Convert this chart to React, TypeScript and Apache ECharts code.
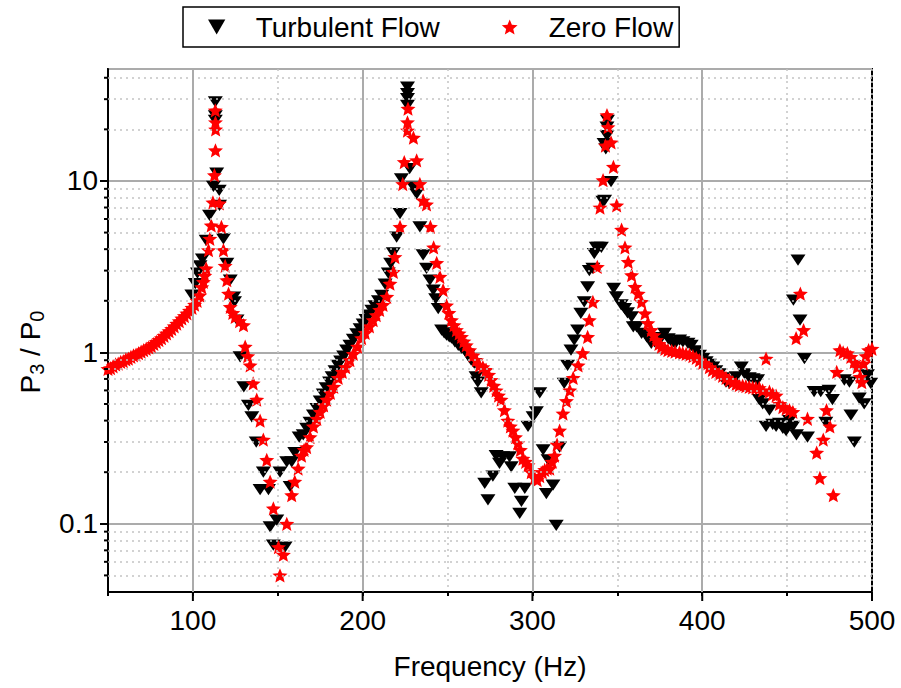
import React, { useEffect, useRef } from 'react';
import * as echarts from 'echarts';

const FONT = "'Liberation Sans', Arial, Helvetica, sans-serif";

const xMajorTicks = [100, 200, 300, 400, 500];
const xSolidGrid = [100, 200, 300, 400];
const yMinorTicks = [0.05, 0.06, 0.07, 0.08, 0.09, 0.2, 0.3, 0.4, 0.5, 0.6, 0.7, 0.8, 0.9, 2, 3, 4, 5, 6, 7, 8, 9, 20, 30, 40];

// [frequency (Hz), P3/P0]
const turbulentFlow: [number, number][] = [
  [99.4, 2.16], [101.4, 2.52], [102.7, 2.9], [104.2, 3.2], [105.6, 3.5], [107.8, 4.5], [109.8, 6.3], [112.1, 9.3],
  [113.2, 22.6], [113.2, 24], [113.2, 28.9], [114, 11.1], [115.5, 8.8], [115.7, 7.2], [118, 4.6], [120, 3.3],
  [122, 2.64], [124, 2.1], [124.5, 1.97], [126, 1.54], [127.8, 0.94], [130, 0.63], [132.7, 0.49], [134.7, 0.42],
  [137.3, 0.30], [139.6, 0.158], [141.5, 0.20], [144.5, 0.158], [145.5, 0.096], [147.4, 0.075], [149.4, 0.105],
  [151.3, 0.20], [154.3, 0.073], [155.3, 0.23], [157.3, 0.165], [158.2, 0.23], [160, 0.26], [162.6, 0.32],
  [165, 0.33], [167, 0.36], [169, 0.39], [171, 0.43], [173, 0.47], [175, 0.52], [176.8, 0.57], [178.5, 0.62],
  [180.5, 0.67], [182, 0.72], [183.7, 0.78], [185.5, 0.84], [187, 0.89], [188.8, 0.95], [190.5, 1.03], [192.5, 1.1],
  [194.5, 1.19], [196.5, 1.28], [198.5, 1.37], [200.3, 1.46], [202, 1.55], [203.8, 1.65], [205.4, 1.76], [207.3, 1.87],
  [209.3, 2.0], [211.2, 2.15], [213.2, 2.5], [215.1, 2.9], [216.5, 3.3], [218, 3.8], [220, 4.7], [222, 6.45],
  [222.8, 10.3], [226.4, 27.6], [226.4, 30.2], [226.4, 32.3], [226.4, 35.3], [227.7, 11.8], [229.9, 9.2], [231.8, 8.4],
  [233.7, 5.4], [235.6, 3.7], [237.6, 3.09], [239.6, 2.64], [241.6, 2.31], [243, 2.05], [244.5, 1.80], [246.5, 1.35],
  [248, 1.3], [249.4, 1.26], [251, 1.23], [252.3, 1.21], [254.3, 1.15], [256.3, 1.10], [258.2, 1.06], [260, 1.03],
  [262, 0.96], [263.9, 0.90], [265.9, 0.86], [266.8, 0.72], [267.8, 0.67], [269.8, 0.58], [271.9, 0.172], [273.8, 0.138],
  [276.7, 0.19], [278.6, 0.25], [280.6, 0.225], [282.5, 0.246], [286.5, 0.246], [287.5, 0.215], [289.6, 0.161],
  [292.5, 0.115], [293.5, 0.135], [295.5, 0.161], [297.4, 0.37], [300.4, 0.42], [302.3, 0.45], [304.3, 0.58],
  [306.3, 0.27], [308.2, 0.15], [309.2, 0.236], [312.1, 0.168], [314, 0.098], [316, 0.28], [318.7, 0.66], [320.7, 0.84],
  [322.7, 1.03], [324.6, 1.18], [326.6, 1.35], [328.5, 1.69], [330.5, 1.97], [332.5, 2.41], [333.5, 3.0], [335.6, 3.09],
  [336.4, 3.77], [337.6, 4.1], [338.7, 4.1], [340.6, 4.1], [341.5, 7.6], [342.5, 7.7], [342.2, 16.5], [343.2, 15.4],
  [343.9, 18.4], [343.9, 20.6], [344.2, 22.6], [346.3, 9.9], [347.8, 2.36], [349.4, 2.11], [352.3, 1.89], [354.3, 1.80],
  [356, 1.7], [358.4, 1.61], [359.4, 1.41], [361.4, 1.41], [364.3, 1.29], [367.3, 1.23], [370, 1.13], [372, 1.15],
  [374, 1.2], [376, 1.22], [377.8, 1.29], [380, 1.2], [382, 1.15], [384, 1.12], [386.7, 1.18], [388.6, 1.15],
  [391.6, 1.13], [393.5, 1.10], [396, 1.02], [398.4, 0.96], [400.3, 0.92], [402.3, 0.88], [404.2, 0.85], [406.2, 0.82],
  [408, 0.78], [410, 0.75], [412, 0.71], [414, 0.67], [416, 0.66], [418, 0.68], [420, 0.72], [423, 0.82], [425, 0.75],
  [427.7, 0.71], [430, 0.70], [432.6, 0.69], [433.6, 0.53], [435.6, 0.5], [437.6, 0.37], [439.6, 0.46], [441.5, 0.38],
  [443.5, 0.37], [445.5, 0.385], [447.5, 0.36], [449.4, 0.35], [451.4, 0.40], [453.4, 0.37], [453.7, 2.02],
  [455.5, 0.33], [456.4, 3.45], [457.6, 1.54], [460.2, 0.92], [462, 0.32], [465.9, 0.59], [469.8, 0.59], [472.8, 0.39],
  [474.7, 0.60], [476.7, 0.53], [483.7, 0.69], [486.7, 0.67], [487.6, 0.43], [489.6, 0.30], [492.5, 0.54],
  [495.4, 0.50], [497.3, 0.74], [499.2, 0.66],
];

const zeroFlow: [number, number][] = [
  [50, 0.80], [51.5, 0.81], [53, 0.83], [54.5, 0.85], [56, 0.86], [57.5, 0.88], [59, 0.89], [60.5, 0.91], [62, 0.92],
  [63.5, 0.94], [65, 0.96], [66.5, 0.97], [68, 0.99], [69.5, 1.01], [71, 1.03], [72.5, 1.05], [74, 1.07], [75.5, 1.09],
  [77, 1.12], [78.5, 1.15], [80, 1.18], [81.5, 1.21], [83, 1.25], [84.5, 1.29], [86, 1.33], [87.5, 1.37], [89, 1.42],
  [90.5, 1.47], [92, 1.52], [93.5, 1.58], [95, 1.63], [96.5, 1.69], [98, 1.75], [99.5, 1.82], [101, 1.90], [102.5, 2.0],
  [104, 2.15], [105.2, 2.4], [106.2, 2.58], [107, 2.8], [107.8, 3.09], [109.2, 3.95], [110, 4.6], [110.8, 5.5],
  [111.8, 7.5], [112.7, 10.8], [113.3, 15.1], [113.4, 20], [113.3, 22], [113.2, 25.8], [115.6, 7.4], [116.8, 5.4],
  [118, 3.95], [119, 3.2], [120, 2.64], [121, 2.2], [122, 1.84], [123.5, 1.7], [124.9, 1.61], [127.5, 1.52],
  [129.8, 1.44], [130.8, 1.08], [132.3, 0.95], [133.7, 0.84], [135.5, 0.66], [137.6, 0.53], [139.6, 0.40], [141.5, 0.31],
  [143.5, 0.236], [145.5, 0.176], [147.4, 0.123], [150.4, 0.073], [151.3, 0.050], [153.3, 0.066], [155.3, 0.10],
  [158.2, 0.147], [160, 0.176], [162, 0.21], [164, 0.25], [165.5, 0.27], [167, 0.28], [169, 0.32], [171, 0.37],
  [173, 0.41], [175, 0.45], [177, 0.49], [178.8, 0.53], [181, 0.58], [183, 0.63], [185.6, 0.71], [188, 0.77], [190, 0.82],
  [192.5, 0.90], [194.5, 0.98], [197, 1.08], [199.4, 1.21], [201.5, 1.3], [204, 1.42], [206.2, 1.54], [208, 1.65],
  [210, 1.77], [212, 1.89], [214.2, 2.11], [216.1, 2.52], [218.1, 2.95], [219, 3.6], [222, 5.4], [223.6, 9.6],
  [224.5, 12.9], [226.4, 19.7], [226.4, 22], [226.7, 26.4], [229.9, 17.9], [231.8, 13.2], [233.7, 9.6], [235.6, 7.7],
  [237.6, 7.3], [239.9, 5.4], [241.8, 4.1], [243.6, 3.33], [245.5, 2.76], [247.4, 2.31], [249.4, 1.88], [250.8, 1.7],
  [252.3, 1.54], [253.8, 1.44], [255.2, 1.35], [256.8, 1.29], [258.2, 1.23], [259.6, 1.16], [261, 1.10], [263, 1.03],
  [265, 0.96], [267, 0.90], [268.8, 0.84], [270.8, 0.82], [272.7, 0.79], [274.2, 0.74], [275.7, 0.69], [277.2, 0.64],
  [278.6, 0.60], [280, 0.56], [281.5, 0.53], [283.5, 0.46], [285.5, 0.40], [287, 0.37], [288.5, 0.35], [290, 0.32],
  [291.4, 0.295], [292.9, 0.27], [294.4, 0.24], [296, 0.23], [297.4, 0.22], [299.3, 0.2], [301.3, 0.185], [302.8, 0.18],
  [304.3, 0.19], [305.8, 0.2], [307.2, 0.206], [308.7, 0.21], [310.2, 0.21], [311.6, 0.23], [313, 0.25], [314.5, 0.29],
  [316, 0.35], [318, 0.44], [320, 0.52], [322, 0.60], [324, 0.71], [326.9, 0.84], [329.6, 0.99], [332.5, 1.23],
  [333.5, 1.54], [335.6, 1.97], [338.2, 3.15], [339.8, 7.0], [341.6, 10.1], [343, 16.1], [343.9, 24.2], [344.5, 20.6],
  [346.3, 16.8], [347.7, 12.1], [349.6, 7.2], [352.5, 5.2], [354.5, 4.1], [356.4, 3.37], [358.4, 2.82], [360.4, 2.41],
  [362.3, 2.2], [364.3, 1.97], [366.3, 1.69], [368, 1.48], [370, 1.35], [371.5, 1.26], [373, 1.18], [374.5, 1.12],
  [376, 1.08], [378, 1.05], [379.8, 1.03], [382, 1.02], [384, 1.01], [386.6, 1.0], [388.5, 0.99], [390.5, 0.98],
  [392.5, 0.97], [394.5, 0.95], [396.5, 0.93], [398.4, 0.90], [400.3, 0.87], [402.2, 0.85], [404.2, 0.82], [406, 0.79],
  [408, 0.77], [410, 0.75], [412, 0.73], [414, 0.71], [416, 0.69], [418, 0.67], [420, 0.655], [421.8, 0.645],
  [423.8, 0.64], [425.7, 0.635], [427.7, 0.63], [429.7, 0.625], [431.6, 0.62], [433.6, 0.62], [435.6, 0.6],
  [437.6, 0.92], [439.6, 0.59], [441.5, 0.57], [443.5, 0.56], [445.5, 0.50], [447.5, 0.48], [449.4, 0.47],
  [451.4, 0.46], [453.4, 0.45], [455.3, 1.21], [457.8, 2.2], [459.7, 1.35], [462, 0.41], [467.4, 0.26], [469.3, 0.185],
  [471.3, 0.31], [473.2, 0.46], [475.2, 0.37], [477.2, 0.147], [479.2, 0.77], [481.1, 1.03], [483, 1.0], [485.5, 0.99],
  [487.5, 0.94], [489.5, 0.88], [491.3, 0.82], [493, 0.72], [494, 0.67], [495, 0.86], [496.5, 0.95], [498, 1.03],
  [500, 1.05],
];

const TRIANGLE_DOWN = 'path://M0,0 L2,0 L1,1.732 Z';
const STAR =
  'path://M0,-1 L0.2645,-0.364 L0.951,-0.309 L0.428,0.139 L0.588,0.809 L0,0.45 L-0.588,0.809 L-0.428,0.139 L-0.951,-0.309 L-0.2645,-0.364 Z';

export default function App() {
  const ref = useRef<HTMLDivElement>(null);

  useEffect(() => {
    if (!ref.current) return;
    const chart = echarts.init(ref.current, undefined, { renderer: 'svg' });
    const dotted = { color: '#c4c4c4', type: [2, 4] as any, width: 1.5 };
    chart.setOption({
      animation: false,
      backgroundColor: '#ffffff',
      textStyle: { fontFamily: FONT },
      grid: {
        left: 108, right: 29, top: 69, bottom: 96,
        show: true, borderColor: '#000', borderWidth: 2, backgroundColor: 'transparent',
      },
      legend: {
        data: ['Turbulent Flow', 'Zero Flow'],
        left: 183, top: 7,
        padding: [6, 6, 6, 25],
        itemGap: 62, itemWidth: 20, itemHeight: 15,
        borderColor: '#000', borderWidth: 1.5,
        selectedMode: false,
        textStyle: { fontSize: 28, color: '#000', fontFamily: FONT, padding: [0, 0, 0, 24] },
      },
      xAxis: {
        type: 'value', min: 50, max: 500, interval: 50,
        name: 'Frequency (Hz)', nameLocation: 'middle', nameGap: 60,
        nameTextStyle: { fontSize: 28, color: '#000', fontFamily: FONT },
        axisLine: { show: true, onZero: false, lineStyle: { color: '#000', width: 2 } },
        axisTick: { show: true, length: 4, lineStyle: { color: '#000', width: 2 } },
        axisLabel: {
          fontSize: 28, color: '#000', margin: 14, fontFamily: FONT,
          formatter: (v: number) => (v % 100 === 0 ? String(v) : ''),
        },
        splitLine: { show: true, lineStyle: dotted },
      },
      yAxis: {
        type: 'log', logBase: 10, min: 0.04, max: 45,
        axisLine: { show: true, onZero: false, lineStyle: { color: '#000', width: 2 } },
        axisTick: { show: true, length: 8, lineStyle: { color: '#000', width: 2 } },
        axisLabel: {
          fontSize: 28, color: '#000', margin: 10, fontFamily: FONT,
          showMinLabel: false, showMaxLabel: false,
          formatter: (v: number) => String(parseFloat(v.toPrecision(3))),
        },
        splitLine: { show: true, lineStyle: { color: '#ababab', width: 2 } },
      },
      series: [
        {
          type: 'scatter', data: [], silent: true, z: 1,
          markLine: {
            silent: true, symbol: ['none', 'none'], label: { show: false }, animation: false,
            lineStyle: dotted,
            data: yMinorTicks.map((v) => ({ yAxis: v })),
          },
        },
        {
          type: 'scatter', data: [], silent: true, z: 1,
          markLine: {
            silent: true, symbol: ['none', 'none'], label: { show: false }, animation: false,
            lineStyle: { color: '#ababab', type: 'solid', width: 2 },
            data: xSolidGrid.map((v) => ({ xAxis: v })),
          },
        },
        {
          name: 'Turbulent Flow', type: 'scatter', data: turbulentFlow,
          symbol: TRIANGLE_DOWN, symbolSize: [15, 13], symbolKeepAspect: true,
          itemStyle: { color: '#000000', opacity: 1 }, z: 3,
        },
        {
          name: 'Zero Flow', type: 'scatter', data: zeroFlow,
          symbol: STAR, symbolSize: 15, symbolKeepAspect: true,
          itemStyle: { color: '#ff0000', opacity: 1 }, z: 4,
        },
      ],
    });

    const g: any[] = [];
    const yb = chart.convertToPixel({ yAxisIndex: 0 }, 0.04) as number;
    const xl = chart.convertToPixel({ xAxisIndex: 0 }, 50) as number;
    xMajorTicks.forEach((v) => {
      const px = chart.convertToPixel({ xAxisIndex: 0 }, v) as number;
      g.push({ type: 'line', shape: { x1: px, y1: yb, x2: px, y2: yb + 9 }, style: { stroke: '#000', lineWidth: 2 }, z: 10 });
    });
    yMinorTicks.forEach((v) => {
      const py = chart.convertToPixel({ yAxisIndex: 0 }, v) as number;
      g.push({ type: 'line', shape: { x1: xl - 4, y1: py, x2: xl, y2: py }, style: { stroke: '#000', lineWidth: 2 }, z: 10 });
    });
    g.push({
      type: 'text', x: 30, y: 352, rotation: Math.PI / 2, z: 10,
      style: {
        text: '{a|P}{b|3}{a| / P}{b|0}',
        align: 'center', verticalAlign: 'middle',
        rich: {
          a: { fontSize: 28, lineHeight: 34, fontFamily: FONT, fill: '#000' },
          b: { fontSize: 20, lineHeight: 14, verticalAlign: 'bottom', fontFamily: FONT, fill: '#000' },
        },
      },
    });
    chart.setOption({ graphic: g });

    return () => chart.dispose();
  }, []);

  return <div ref={ref} style={{ position: 'fixed', left: 0, top: 0, width: 901, height: 688 }} />;
}
